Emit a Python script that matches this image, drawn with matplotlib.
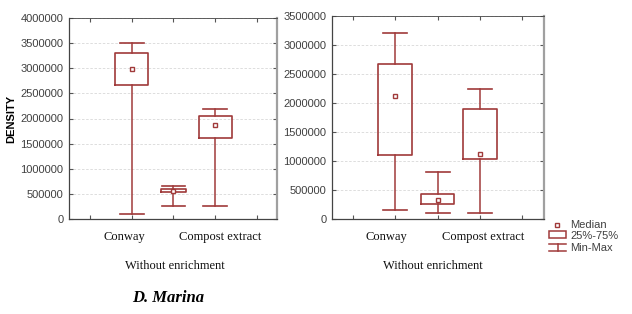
import matplotlib
matplotlib.use("Agg")
import matplotlib.pyplot as plt
from matplotlib.lines import Line2D
from matplotlib.patches import Rectangle

# box statistics (min, q1, median, q3, max)
left_pos = [1, 2, 3]
left_min = [100000, 250000, 250000]
left_q1 = [2660000, 535000, 1605000]
left_med = [2990000, 560000, 1865000]
left_q3 = [3310000, 590000, 2055000]
left_max = [3500000, 650000, 2190000]

right_pos = [1, 2, 3]
right_min = [150000, 100000, 100000]
right_q1 = [1100000, 255000, 1030000]
right_med = [2125000, 322000, 1115000]
right_q3 = [2680000, 426000, 1900000]
right_max = [3200000, 805000, 2236000]

categories = ["Conway", "Compost extract"]
group_label = "Without enrichment"
species = "D. Marina"
left_yticks = list(range(0, 4000001, 500000))
right_yticks = list(range(0, 3500001, 500000))

RED = "#a03a3a"
W, H = 632, 314

fig = plt.figure(figsize=(W / 100, H / 100), dpi=100)


def px(x0, y0, x1, y1):
    # pixel box -> figure fraction
    return [x0 / W, 1 - y1 / H, (x1 - x0) / W, (y1 - y0) / H]


def draw_panel(ax, pos, mn, q1, med, q3, mx, widths, yticks, xlim):
    stats = []
    for i in range(len(pos)):
        stats.append(dict(whislo=mn[i], q1=q1[i], med=med[i], q3=q3[i], whishi=mx[i]))
    ax.bxp(stats, positions=pos, widths=widths, capwidths=0.57,
           showfliers=False, patch_artist=False,
           boxprops=dict(color=RED, linewidth=1.2),
           whiskerprops=dict(color=RED, linewidth=1.1),
           capprops=dict(color=RED, linewidth=1.2),
           medianprops=dict(linewidth=0))
    ax.plot(pos, med, ls="none", marker="s", ms=3.2, mfc="white", mec=RED, mew=1.0)
    ax.set_xlim(*xlim)
    ax.set_ylim(yticks[0], yticks[-1])
    ax.set_xticks([0, 1, 2, 3, 4])
    ax.set_xticklabels([])
    ax.set_yticks(yticks)
    ax.set_yticklabels([str(v) for v in yticks], fontsize=8,
                       family="Liberation Sans", color="#404040")
    ax.yaxis.grid(True, color="#d8d8d8", ls=(0, (3, 2)), lw=0.6)
    ax.set_axisbelow(True)
    ax.tick_params(axis="x", direction="in", length=3, top=True, color="#555555")
    ax.tick_params(axis="y", direction="in", length=3, right=True, color="#555555", pad=4)
    for s in ["left", "bottom", "top"]:
        ax.spines[s].set_color("#444444")
        ax.spines[s].set_linewidth(0.9)
    ax.spines["top"].set_linewidth(0.6)
    ax.spines["right"].set_color("#a0a0a0")
    ax.spines["right"].set_linewidth(1.6)


ax1 = fig.add_axes(px(69, 18, 277, 219))
draw_panel(ax1, left_pos, left_min, left_q1, left_med, left_q3, left_max,
           [0.79, 0.6, 0.79], left_yticks, (-0.5, 4.48))
ax1.set_ylabel("DENSITY", fontsize=8, fontweight="bold", family="Liberation Sans", labelpad=3)

ax2 = fig.add_axes(px(332, 16, 544, 219))
draw_panel(ax2, right_pos, right_min, right_q1, right_med, right_q3, right_max,
           0.8, right_yticks, (-0.5, 4.52))


def ftext(x, y, s, **kw):
    fig.text(x / W, 1 - y / H, s, ha="center", va="center", **kw)


serif = dict(family="Liberation Serif", fontsize=9, color="#111111")
ftext(124, 237, categories[0], **serif)
ftext(220, 237, categories[1], **serif)
ftext(386, 237, categories[0], **serif)
ftext(483, 237, categories[1], **serif)
ftext(175, 266, group_label, **serif)
ftext(433, 266, group_label, **serif)
ftext(168, 298, species, family="Liberation Serif", fontsize=12,
      fontweight="bold", style="italic")

# legend drawn by hand in figure pixels
lax = fig.add_axes([0, 0, 1, 1], facecolor="none")
lax.set_xlim(0, W)
lax.set_ylim(H, 0)
lax.axis("off")
lax.add_line(Line2D([557], [225], ls="none", marker="s", ms=3.2, mfc="white", mec=RED, mew=1.0))
lax.add_patch(Rectangle((549, 231), 17, 7, fill=False, ec=RED, lw=1.1))
lax.add_line(Line2D([549, 566], [244, 244], color=RED, lw=1.1))
lax.add_line(Line2D([557.5, 557.5], [244, 251], color=RED, lw=1.1))
lax.add_line(Line2D([549, 566], [251, 251], color=RED, lw=1.1))
leg = dict(fontsize=8, family="Liberation Sans", color="#404040", va="center")
lax.text(570, 225, "Median", **leg)
lax.text(570, 236, "25%-75%", **leg)
lax.text(570, 248, "Min-Max", **leg)

fig.savefig("out.png", dpi=100)
